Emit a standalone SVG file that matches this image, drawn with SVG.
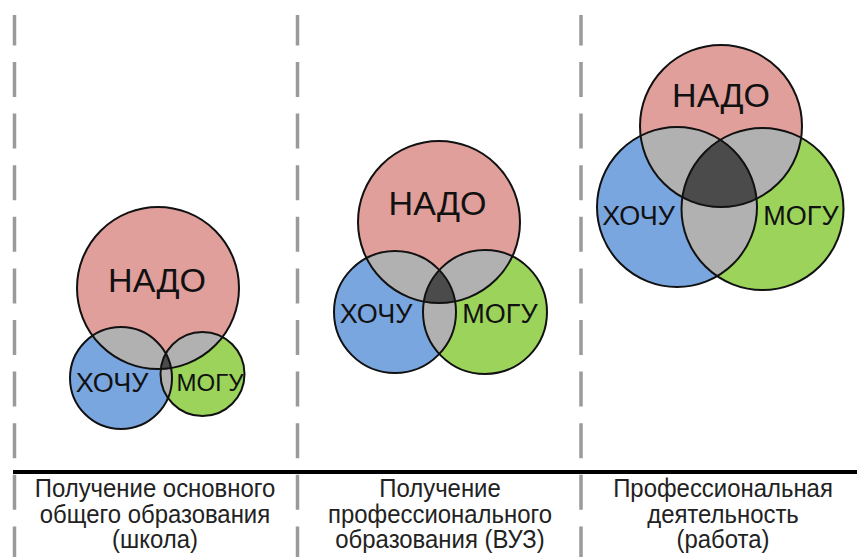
<svg xmlns="http://www.w3.org/2000/svg" width="857" height="557" viewBox="0 0 857 557">
<style>
.dash{stroke:#9a9a9a;stroke-width:3.5;stroke-dasharray:35 16.6;stroke-dashoffset:4.6;fill:none}
.nado{fill:#e09f9b}
.hochu{fill:#7aa6e0}
.mogu{fill:#9bd35b}
.ov{fill:#b1b1b1}
.tri{fill:#4b4b4b}
.ol{fill:none;stroke:#111;stroke-width:2}
.t{font-family:"Liberation Sans",Arial,sans-serif;fill:#111;text-anchor:middle}
.big{font-size:34px}
.mid{font-size:27px}
.cap{font-family:"Liberation Sans",Arial,sans-serif;font-size:26px;fill:#222;text-anchor:middle}
</style>
<defs>
<clipPath id="c1a"><circle cx="158" cy="288" r="81"/></clipPath>
<clipPath id="c1b"><circle cx="121" cy="378" r="51"/></clipPath>
<clipPath id="c2a"><circle cx="439" cy="222" r="81"/></clipPath>
<clipPath id="c2b"><circle cx="395" cy="312" r="61"/></clipPath>
<clipPath id="c3a"><circle cx="721" cy="126" r="81"/></clipPath>
<clipPath id="c3b"><circle cx="677" cy="207" r="80"/></clipPath>
</defs>
<g id="connectors">
<line class="dash" x1="14.5" y1="15" x2="14.5" y2="557"/>
<line class="dash" x1="297.5" y1="15" x2="297.5" y2="557"/>
<line class="dash" x1="581" y1="15" x2="581" y2="557"/>
<line x1="13" y1="472" x2="857" y2="472" stroke="#000" stroke-width="4"/>
</g>
<g id="venn-school">
<circle class="nado" cx="158" cy="288" r="81"/>
<circle class="hochu" cx="121" cy="378" r="51"/>
<circle class="mogu" cx="202.5" cy="374" r="42"/>
<circle class="ov" cx="121" cy="378" r="51" clip-path="url(#c1a)"/>
<circle class="ov" cx="202.5" cy="374" r="42" clip-path="url(#c1a)"/>
<circle class="ov" cx="202.5" cy="374" r="42" clip-path="url(#c1b)"/>
<g clip-path="url(#c1a)"><circle class="tri" cx="202.5" cy="374" r="42" clip-path="url(#c1b)"/></g>
<g id="school-nado"><circle class="ol" cx="158" cy="288" r="81"/><text class="t big" x="157" y="292">НАДО</text></g>
<g id="school-hochu"><circle class="ol" cx="121" cy="378" r="51"/><text class="t mid" x="112" y="392">ХОЧУ</text></g>
<g id="school-mogu"><circle class="ol" cx="202.5" cy="374" r="42"/><text class="t" font-size="24" x="210" y="391">МОГУ</text></g>
</g>
<g id="venn-university">
<circle class="nado" cx="439" cy="222" r="81"/>
<circle class="hochu" cx="395" cy="312" r="61"/>
<circle class="mogu" cx="485" cy="312" r="62"/>
<circle class="ov" cx="395" cy="312" r="61" clip-path="url(#c2a)"/>
<circle class="ov" cx="485" cy="312" r="62" clip-path="url(#c2a)"/>
<circle class="ov" cx="485" cy="312" r="62" clip-path="url(#c2b)"/>
<g clip-path="url(#c2a)"><circle class="tri" cx="485" cy="312" r="62" clip-path="url(#c2b)"/></g>
<g id="university-nado"><circle class="ol" cx="439" cy="222" r="81"/><text class="t big" x="437.5" y="215">НАДО</text></g>
<g id="university-hochu"><circle class="ol" cx="395" cy="312" r="61"/><text class="t mid" x="376" y="323">ХОЧУ</text></g>
<g id="university-mogu"><circle class="ol" cx="485" cy="312" r="62"/><text class="t mid" x="500" y="323">МОГУ</text></g>
</g>
<g id="venn-work">
<circle class="nado" cx="721" cy="126" r="81"/>
<circle class="hochu" cx="677" cy="207" r="80"/>
<circle class="mogu" cx="762.5" cy="209" r="81"/>
<circle class="ov" cx="677" cy="207" r="80" clip-path="url(#c3a)"/>
<circle class="ov" cx="762.5" cy="209" r="81" clip-path="url(#c3a)"/>
<circle class="ov" cx="762.5" cy="209" r="81" clip-path="url(#c3b)"/>
<g clip-path="url(#c3a)"><circle class="tri" cx="762.5" cy="209" r="81" clip-path="url(#c3b)"/></g>
<g id="work-nado"><circle class="ol" cx="721" cy="126" r="81"/><text class="t big" x="721" y="107">НАДО</text></g>
<g id="work-hochu"><circle class="ol" cx="677" cy="207" r="80"/><text class="t mid" x="638.5" y="225">ХОЧУ</text></g>
<g id="work-mogu"><circle class="ol" cx="762.5" cy="209" r="81"/><text class="t mid" x="801" y="225">МОГУ</text></g>
</g>
<g id="label-school" transform="translate(155,0) scale(0.92,1)">
<text class="cap" x="0" y="497.5">Получение основного</text>
<text class="cap" x="0" y="523">общего образования</text>
<text class="cap" x="0" y="548.5">(школа)</text>
</g>
<g id="label-university" transform="translate(440,0) scale(0.92,1)">
<text class="cap" x="0" y="497.5">Получение</text>
<text class="cap" x="0" y="523">профессионального</text>
<text class="cap" x="0" y="548.5">образования (ВУЗ)</text>
</g>
<g id="label-work" transform="translate(723,0) scale(0.92,1)">
<text class="cap" x="0" y="497.5">Профессиональная</text>
<text class="cap" x="0" y="523">деятельность</text>
<text class="cap" x="0" y="548.5">(работа)</text>
</g>
</svg>
